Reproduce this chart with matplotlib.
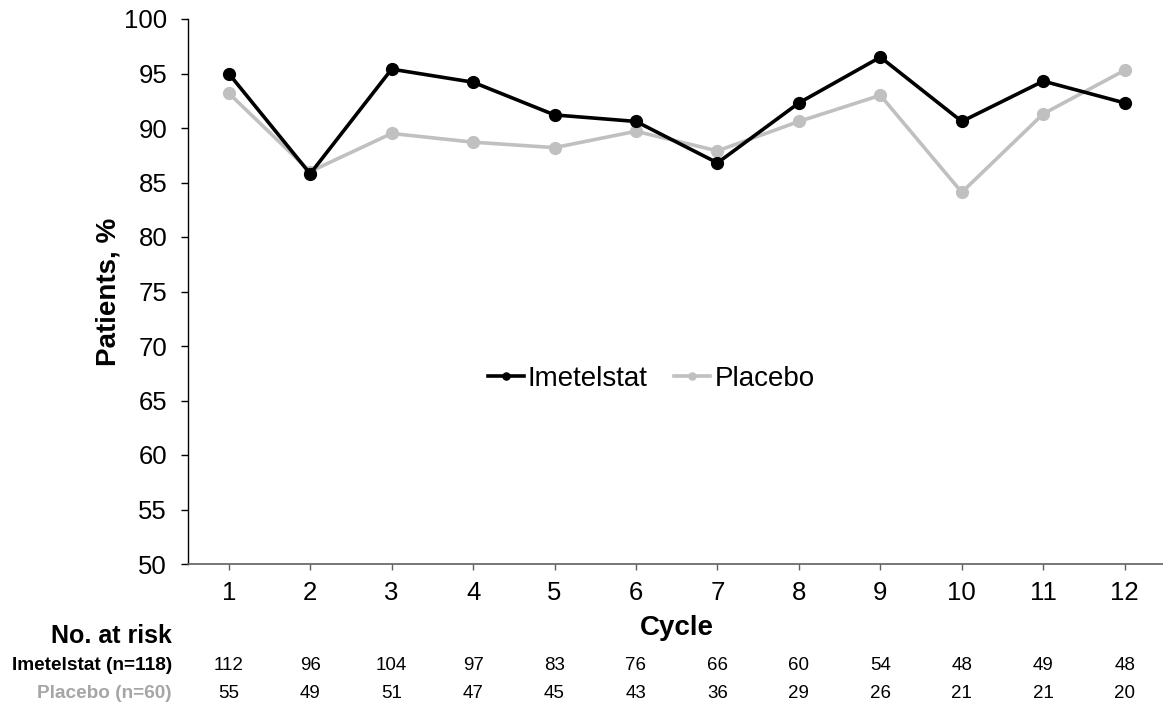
import matplotlib
matplotlib.use("Agg")
import matplotlib.pyplot as plt
import matplotlib.transforms as mtransforms

plt.rcParams['font.family'] = ['Liberation Sans', 'DejaVu Sans']

cycles = [1, 2, 3, 4, 5, 6, 7, 8, 9, 10, 11, 12]
imetelstat = [95.0, 85.8, 95.4, 94.2, 91.2, 90.6, 86.8, 92.3, 96.5, 90.6, 94.3, 92.3]
placebo = [93.2, 86.0, 89.5, 88.7, 88.2, 89.7, 87.9, 90.6, 93.0, 84.1, 91.3, 95.3]
risk_imetelstat = [112, 96, 104, 97, 83, 76, 66, 60, 54, 48, 49, 48]
risk_placebo = [55, 49, 51, 47, 45, 43, 36, 29, 26, 21, 21, 20]
series_labels = ["Imetelstat", "Placebo"]
risk_labels = ["Imetelstat (n=118)", "Placebo (n=60)"]
yticks = [50, 55, 60, 65, 70, 75, 80, 85, 90, 95, 100]

black = "#000000"
gray = "#C0C0C0"
label_gray = "#A6A6A6"

fig = plt.figure(figsize=(11.63, 7.11), dpi=100)
ax = fig.add_axes([188 / 1163, 1 - 564 / 711, (1163 - 188) / 1163, (564 - 19) / 711])

ax.plot(cycles, imetelstat, color=black, lw=2.6, marker='o', ms=8.5, label=series_labels[0], zorder=3)
ax.plot(cycles, placebo, color=gray, lw=2.6, marker='o', ms=8.5, label=series_labels[1], zorder=2)

ax.set_xlim(0.5, 12.47)
ax.set_ylim(50, 100)
ax.set_yticks(yticks)
ax.set_xticks(cycles)
ax.tick_params(axis='y', direction='out', length=5, width=1, labelsize=18.5, pad=10)
ax.tick_params(axis='x', direction='out', length=4, width=1, labelsize=18.5, pad=8, color='#606060')
for s in ['top', 'right']:
    ax.spines[s].set_visible(False)
ax.spines['left'].set_color(black)
ax.spines['bottom'].set_color('#606060')
ax.spines['left'].set_linewidth(1)
ax.spines['bottom'].set_linewidth(1.2)

ax.set_ylabel("Patients, %", fontsize=20, fontweight='bold', labelpad=2)
fig.text(677 / 1163, 1 - 628 / 711, "Cycle", fontsize=20, fontweight='bold', ha='center', va='center')

leg = ax.legend(loc='center', bbox_to_anchor=(0.475, 0.34), ncol=2, frameon=False, fontsize=20,
                handlelength=1.3, handletextpad=0.15, columnspacing=0.95, markerscale=0.6)

trans = mtransforms.blended_transform_factory(ax.transData, fig.transFigure)
fig.text(172 / 1163, 1 - 636 / 711, "No. at risk", fontsize=18, fontweight='bold', ha='right', va='center')
fig.text(172 / 1163, 1 - 666 / 711, risk_labels[0], fontsize=13.7, fontweight='bold', ha='right', va='center', color=black)
fig.text(172 / 1163, 1 - 693 / 711, risk_labels[1], fontsize=13.7, fontweight='bold', ha='right', va='center', color=label_gray)
for c, a, b in zip(cycles, risk_imetelstat, risk_placebo):
    ax.text(c, 1 - 666 / 711, str(a), transform=trans, fontsize=13.5, ha='center', va='center')
    ax.text(c, 1 - 693 / 711, str(b), transform=trans, fontsize=13.5, ha='center', va='center')

fig.savefig("out.png", dpi=100)
